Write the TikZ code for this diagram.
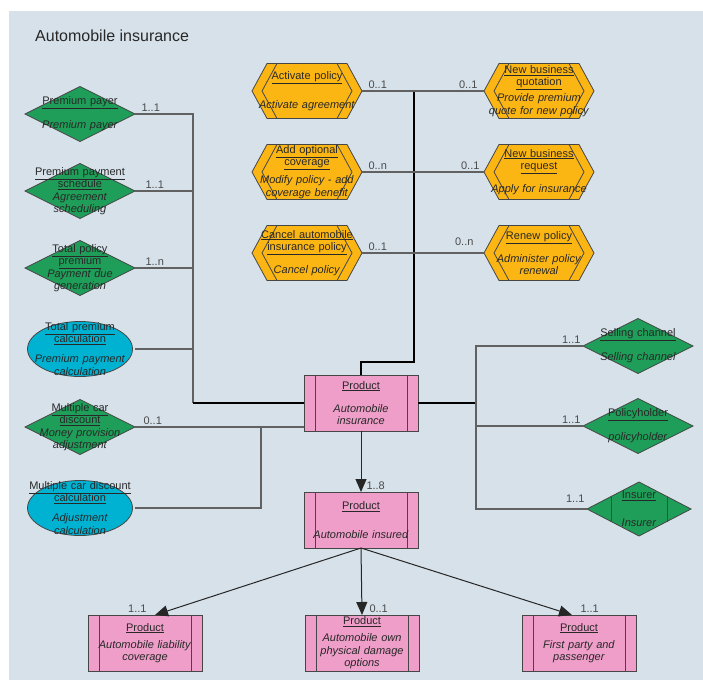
\documentclass[tikz,border=0pt]{standalone}
\usepackage{fontspec}
\setmainfont{Liberation Sans}
\usepackage{tikz}
\usetikzlibrary{arrows.meta}
\usetikzlibrary{backgrounds}
\usetikzlibrary{positioning}
\definecolor{panel}{RGB}{214,225,234}
\definecolor{ink}{RGB}{40,40,40}
\definecolor{edge}{RGB}{70,70,70}
\definecolor{multgray}{RGB}{75,75,75}
\definecolor{entgreen}{RGB}{30,158,88}
\definecolor{calcblue}{RGB}{0,178,210}
\definecolor{procorange}{RGB}{252,182,20}
\definecolor{prodpink}{RGB}{238,158,200}
\tikzstyle{txt}=[rectangle,inner sep=0pt,outer sep=0pt,align=center,text width=110pt,minimum width=110pt,minimum height=55pt,font=\fontsize{11}{12.5}\selectfont,text=ink]
\tikzstyle{keytxt}=[txt,text width=104pt,minimum width=104pt,minimum height=54pt]
\tikzstyle{prodtxt}=[txt,text width=114pt,minimum width=114pt,minimum height=56pt]
\tikzstyle{outline}=[draw=edge,line width=0.8pt]
\tikzstyle{heading}=[inner sep=0pt,font=\fontsize{16}{19}\selectfont,text=ink]
\tikzstyle{mult}=[inner sep=2pt,font=\fontsize{11}{13}\selectfont,text=multgray]
\tikzstyle{link}=[draw=black!62,line width=1.1pt]
\tikzstyle{bus}=[draw=black,line width=1.8pt]
\tikzstyle{arrow}=[draw=black!85,line width=1pt,-{Triangle[length=13pt,width=11pt]}]

\begin{document}
\begin{tikzpicture}[x=1pt,y=-1pt]
  \useasboundingbox (0,0) rectangle (703,684);
  \node[heading,anchor=west] at (35,36) (title) {Automobile insurance};
  % left column
  \node[txt] at (80,114) (pp) {\underline{Premium payer}\\[11.5pt]\textit{Premium payer}};
  \node[txt] at (80,191) (pps) {\underline{Premium payment}\\\underline{schedule}\\\textit{Agreement}\\\textit{scheduling}};
  \node[txt] at (80,268) (tpp) {\underline{Total policy}\\\underline{premium}\\\textit{Payment due}\\\textit{generation}};
  \node[txt] at (80,349) (tpc) {\underline{Total premium}\\\underline{calculation}\\[7.5pt]\textit{Premium payment}\\\textit{calculation}};
  \node[txt] at (80,427) (mcd) {\underline{Multiple car}\\\underline{discount}\\\textit{Money provision}\\\textit{adjustment}};
  \node[txt] at (80,508) (mcdc) {\underline{Multiple car discount}\\\underline{calculation}\\[7.5pt]\textit{Adjustment}\\\textit{calculation}};
  % processes
  \node[txt] at (307,91) (act) {\underline{Activate policy}\\[16.5pt]\textit{Activate agreement}};
  \node[txt] at (307,172) (addc) {\underline{Add optional}\\\underline{coverage}\\[5.5pt]\textit{Modify policy - add}\\\textit{coverage benefit}};
  \node[txt] at (307,253) (canc) {\underline{Cancel automobile}\\\underline{insurance policy}\\[10.5pt]\textit{Cancel policy}};
  \node[txt] at (539,91) (nbq) {\underline{New business}\\\underline{quotation}\\[3.5pt]\textit{Provide premium}\\\textit{quote for new policy}};
  \node[txt] at (539,172) (nbr) {\underline{New business}\\\underline{request}\\[10.5pt]\textit{Apply for insurance}};
  \node[txt] at (539,253) (ren) {\underline{Renew policy}\\[10.5pt]\textit{Administer policy}\\\textit{renewal}};
  % right column
  \node[txt] at (638,346) (sell) {\underline{Selling channel}\\[11.5pt]\textit{Selling channel}};
  \node[txt] at (638,426) (polh) {\underline{Policyholder}\\[11.5pt]\textit{policyholder}};
  \node[keytxt] at (639,509) (ins) {\underline{Insurer}\\[15.5pt]\textit{Insurer}};
  % products
  \node[prodtxt] at (361,403) (prod) {\underline{Product}\\[10.5pt]\textit{Automobile}\\\textit{insurance}};
  \node[prodtxt] at (361,520) (insd) {\underline{Product}\\[16.5pt]\textit{Automobile insured}};
  \node[prodtxt] at (145,643) (liab) {\underline{Product}\\[4.5pt]\textit{Automobile liability}\\\textit{coverage}};
  \node[prodtxt] at (362,643) (own) {\underline{Product}\\[4.5pt]\textit{Automobile own}\\\textit{physical damage}\\\textit{options}};
  \node[prodtxt] at (579,643) (fpp) {\underline{Product}\\[4.5pt]\textit{First party and}\\\textit{passenger}};
  % shapes behind the texts
  \begin{scope}[on background layer]
    \fill[panel] (9,11) rectangle (703,680);
    \foreach \n in {pp,pps,tpp,mcd,sell,polh} {
      \begin{scope}[shift={(\n.center)}]
        \filldraw[outline,fill=entgreen] (-55,0) -- (0,-27.5) -- (55,0) -- (0,27.5) -- cycle;
      \end{scope}
    }
    \begin{scope}[shift={(ins.center)}]
      \filldraw[outline,fill=entgreen] (-52,0) -- (0,-27) -- (52,0) -- (0,27) -- cycle;
      \draw[outline] (-28,-12.5) -- (-28,12.5) (28,-12.5) -- (28,12.5);
    \end{scope}
    \foreach \n in {tpc,mcdc} {
      \filldraw[outline,fill=calcblue] (\n.center) ellipse [x radius=52.5pt,y radius=27.5pt];
    }
    \foreach \n in {act,addc,canc,nbq,nbr,ren} {
      \begin{scope}[shift={(\n.center)}]
        \filldraw[outline,fill=procorange] (-55,0) -- (-40,-27.5) -- (40,-27.5) -- (55,0) -- (40,27.5) -- (-40,27.5) -- cycle;
        \draw[outline] (-30,-27.5) -- (-45,0) -- (-30,27.5) (30,-27.5) -- (45,0) -- (30,27.5);
      \end{scope}
    }
    \foreach \n in {prod,insd,liab,own,fpp} {
      \begin{scope}[shift={(\n.center)}]
        \filldraw[outline,fill=prodpink] (-57,-28) rectangle (57,28);
        \draw[outline] (-46,-28) -- (-46,28) (46,-28) -- (46,28);
      \end{scope}
    }
  \end{scope}
  \coordinate (lbend) at (193,403);
  \coordinate (mbend) at (261,427);
  \coordinate (tbend) at (414,362);
  \coordinate (rbus) at (476,403);
  % left links
  \draw[link] (pp.east) node[mult,above right,xshift=4pt] {1..1} -| (lbend);
  \draw[link] (pps.east) node[mult,above right,xshift=8pt] {1..1} -- (pps.east -| lbend);
  \draw[link] (tpp.east) node[mult,above right,xshift=8pt] {1..n} -- (tpp.east -| lbend);
  \draw[link] (tpc.east) -- (tpc.east -| lbend);
  \draw[bus] (lbend) -- (prod.west);
  \draw[link] (mcd.east) node[mult,above right,xshift=6pt] {0..1} -- (mcd.east -| prod.west);
  \draw[link] (mcdc.east) -| (mbend);
  % process links
  \draw[bus] (prod.north) |- (tbend) -- (tbend |- act.east);
  \draw[link] (act.east) node[mult,above right,xshift=4pt] {0..1} -- (nbq.west) node[mult,above left,xshift=-4pt] {0..1};
  \draw[link] (addc.east) node[mult,above right,xshift=4pt] {0..n} -- (nbr.west) node[mult,above left,xshift=-2pt] {0..1};
  \draw[link] (canc.east) node[mult,above right,xshift=4pt] {0..1} -- (ren.west) node[mult,above left,xshift=-8pt,yshift=5pt] {0..n};
  % right links
  \draw[bus] (prod.east) -- (rbus);
  \draw[link] (sell.west) node[mult,above left] {1..1} -| (rbus);
  \draw[link] (polh.west) node[mult,above left] {1..1} -- (polh.west -| rbus);
  \draw[link] (ins.west) node[mult,above left,yshift=4pt] {1..1} -| (rbus);
  % product tree
  \draw[arrow] (prod.south) -- (insd.north) node[mult,anchor=south west,xshift=3pt] {1..8};
  \draw[arrow] (insd.south) -- ([xshift=10pt]liab.north) node[mult,anchor=south east,xshift=-6pt] {1..1};
  \draw[arrow] (insd.south) -- (own.north) node[mult,anchor=south west,xshift=5pt] {0..1};
  \draw[arrow] (insd.south) -- ([xshift=-7pt]fpp.north) node[mult,anchor=south west,xshift=6pt] {1..1};
\end{tikzpicture}
\end{document}
